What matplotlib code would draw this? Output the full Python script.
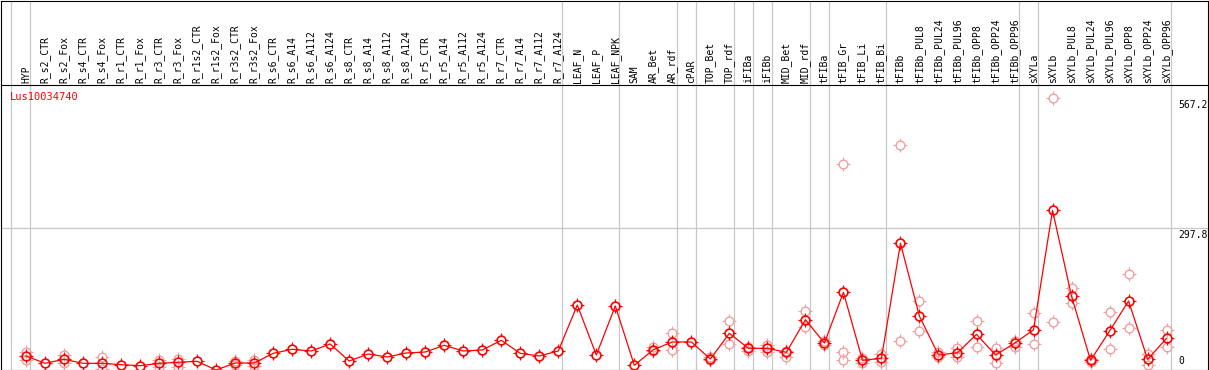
import matplotlib
matplotlib.use("Agg")
import matplotlib.pyplot as plt
from matplotlib.path import Path

gene = "Lus10034740"

samples = [
    "HYP", "R_s2_CTR", "R_s2_Fox", "R_s4_CTR", "R_s4_Fox", "R_r1_CTR", "R_r1_Fox",
    "R_r3_CTR", "R_r3_Fox", "R_r1s2_CTR", "R_r1s2_Fox", "R_r3s2_CTR", "R_r3s2_Fox",
    "R_s6_CTR", "R_s6_A14", "R_s6_A112", "R_s6_A124", "R_s8_CTR", "R_s8_A14",
    "R_s8_A112", "R_s8_A124", "R_r5_CTR", "R_r5_A14", "R_r5_A112", "R_r5_A124",
    "R_r7_CTR", "R_r7_A14", "R_r7_A112", "R_r7_A124", "LEAF_N", "LEAF_P", "LEAF_NPK",
    "SAM", "AR_Bet", "AR_rdf", "cPAR", "TOP_Bet", "TOP_rdf", "iFIBa", "iFIBb",
    "MID_Bet", "MID_rdf", "tFIBa", "tFIB_Gr", "tFIB_Li", "tFIB_Bi", "tFIBb",
    "tFIBb_PUL8", "tFIBb_PUL24", "tFIBb_PUL96", "tFIBb_OPP8", "tFIBb_OPP24",
    "tFIBb_OPP96", "sXYLa", "sXYLb", "sXYLb_PUL8", "sXYLb_PUL24", "sXYLb_PUL96",
    "sXYLb_OPP8", "sXYLb_OPP24", "sXYLb_OPP96",
]

means = [
    33.2, 18.0, 26.3, 18.0, 18.0, 15.1, 13.1, 18.0, 20.1, 22.2, 4.1, 18.6, 18.6,
    38.7, 47.0, 43.5, 58.0, 22.8, 37.3, 31.1, 39.4, 41.4, 55.3, 43.5, 45.6,
    65.7, 38.7, 33.2, 43.5, 138.8, 35.2, 136.8,
    13.9, 46.2, 62.2, 62.2, 26.9, 80.2, 49.1, 49.1,
    40.8, 108.4, 60.1, 165.1, 24.2, 28.4, 266.7,
    115.4, 35.2, 40.0, 78.1, 35.2, 59.5, 87.6, 335.0,
    156.9, 24.2, 85.0, 147.1, 26.3, 69.8,
]

replicates = [
    [42.1, 24.9], [], [35.2, 18.0], [], [30.5, 6.2], [], [],
    [24.9, 11.0], [26.9, 9.7], [], [], [22.8, 13.9], [24.9, 12.4],
    [], [], [], [], [], [], [], [], [], [], [], [],
    [], [], [], [], [], [], [],
    [], [51.2, 43.5], [80.2, 45.0], [], [30.5, 24.9], [105.1, 58.0], [52.4, 43.5], [56.6, 40.8],
    [44.1, 30.5], [125.8, 92.6], [64.2, 55.3], [430.4, 40.8, 24.2], [28.4, 18.0], [37.3, 20.1], [469.7, 63.6],
    [146.5, 84.9], [42.1, 30.5], [50.4, 31.7], [105.1, 51.2], [49.1, 19.3], [64.2, 52.4], [121.6, 57.4], [567.2, 103.0],
    [173.4, 142.3], [26.3, 21.3], [123.7, 47.0], [202.4, 91.2], [37.3, 13.9], [87.0, 51.2],
]

# group dividers sit just right of these columns
dividers = [-1, 0, 28, 31, 34, 35, 37, 38, 39, 41, 42, 45, 52, 53, 60]

ytick_vals = [567.2, 297.8]

# short ticks around the ring marker
ticks = Path([(1, 0), (1.5, 0), (-1, 0), (-1.5, 0), (0, 1), (0, 1.5), (0, -1), (0, -1.5)],
             [Path.MOVETO, Path.LINETO] * 4)

W, H = 1209, 370
fig = plt.figure(figsize=(W / 100, H / 100), dpi=100)
ax = fig.add_axes([0.5 / W, (H - 369.5) / H, 1207 / W, 369 / H])

step = 19.01
x0 = 26
ax.set_xlim((0.5 - x0) / step, (1207.5 - x0) / step)
scale = 0.4826
ax.set_ylim((372 - 369.5) / scale, (372 - 0.5) / scale)

for sp in ax.spines.values():
    sp.set_color("black")
    sp.set_linewidth(0.8)
ax.set_xticks([])
ax.set_yticks([])

for d in dividers:
    ax.axvline(d + 0.22, color="#c8c8c8", lw=0.9, zorder=1)
ax.axhline(297.8, color="#c8c8c8", lw=0.9, zorder=1)
ax.axhline((372 - 85) / scale, color="black", lw=0.8, zorder=2)

rx, ry = [], []
for i, vals in enumerate(replicates):
    for v in vals:
        rx.append(i)
        ry.append(v)
ax.plot(rx, ry, ls="none", marker="o", ms=6.3, mfc="none", mec="#f0a0a0", mew=1.0, zorder=3)
ax.plot(rx, ry, ls="none", marker=ticks, ms=9.5, mec="#f0a0a0", mew=0.8, zorder=3)

xs = list(range(len(samples)))
ax.plot(xs, means, color="#ff0000", lw=0.9, marker="o", ms=6.3, mfc="none",
        mec="#ff0000", mew=1.2, zorder=4)
ax.plot(xs, means, ls="none", marker=ticks, ms=9.5, mec="#ff0000", mew=0.9, zorder=4)

trans = ax.get_xaxis_transform()
lab_y = (369.5 - 83) / 369
for i, s in enumerate(samples):
    ax.text(i, lab_y, s, rotation=90, ha="center", va="bottom", fontsize=7,
            family="DejaVu Sans Mono", transform=trans)

ax.text(9 / 1207, (369.5 - 92) / 369, gene, color="#ff0000", fontsize=7.5,
        family="DejaVu Sans Mono", ha="left", va="top", transform=ax.transAxes)

xt = (1178 - x0) / step
for v in ytick_vals:
    ax.annotate(f"{v:.1f}", (xt, v), xytext=(0, -1.5), textcoords="offset points",
                ha="left", va="top", fontsize=7, family="DejaVu Sans Mono")
ax.text(xt, (372 - 366) / scale, "0", ha="left", va="bottom", fontsize=7,
        family="DejaVu Sans Mono")

fig.savefig("out.png", dpi=100)
